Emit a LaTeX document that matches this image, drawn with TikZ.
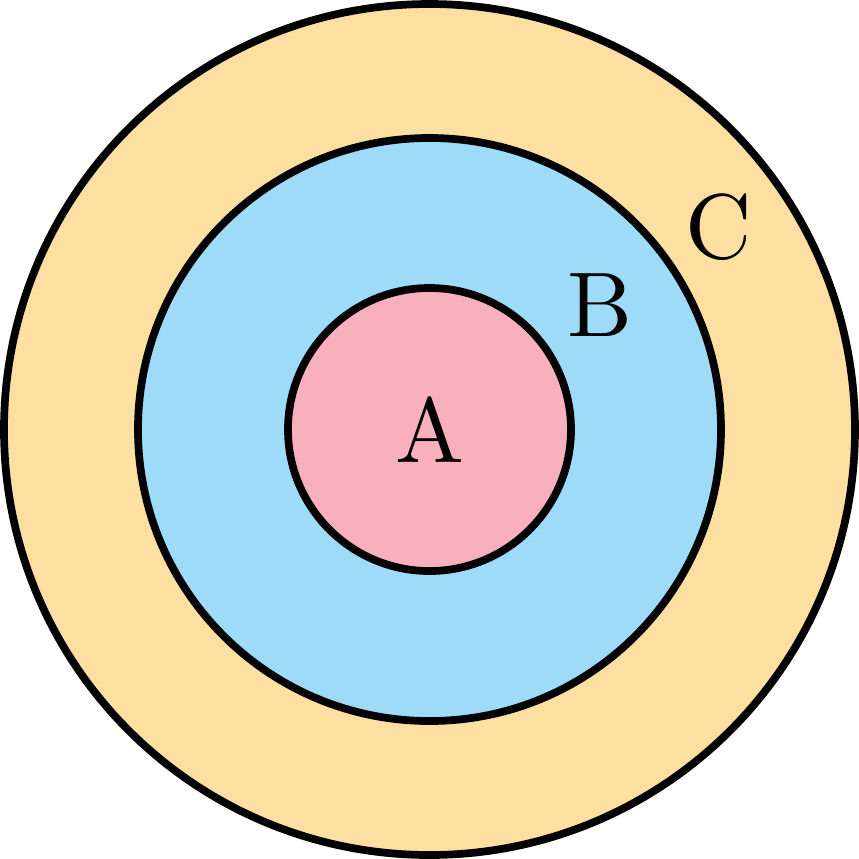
\documentclass[tikz,border=0pt]{standalone}
\usepackage{graphicx}
\usepackage{tikz}
\definecolor{ringC}{RGB}{252,223,161}
\definecolor{ringB}{RGB}{157,219,249}
\definecolor{ringA}{RGB}{248,176,188}
\newcommand{\biglbl}[1]{\scalebox{2.49}{#1}}
\tikzset{
  ring/.style={circle, draw=black, line width=2.09pt, inner sep=0pt},
  lbl/.style={anchor=base, inner sep=0pt, font=\normalsize},
}
\begin{document}
\begin{tikzpicture}[x=0.271pt, y=-0.271pt]
\useasboundingbox (0,0) rectangle (859,859);
\node[ring, fill=ringC, minimum size=230.62pt] (C) at (429.5,429.5) {};
\node[ring, fill=ringB, minimum size=158.0pt] (B) at (429.5,429.5) {};
\node[ring, fill=ringA, minimum size=76.7pt] (A) at (429.5,429.5) {};
\node[lbl] (la) at (430,462) {\biglbl{A}};
\node[lbl] (lb) at (600,336.7) {\biglbl{B}};
\node[lbl] (lc) at (719,258) {\biglbl{C}};
\end{tikzpicture}
\end{document}
